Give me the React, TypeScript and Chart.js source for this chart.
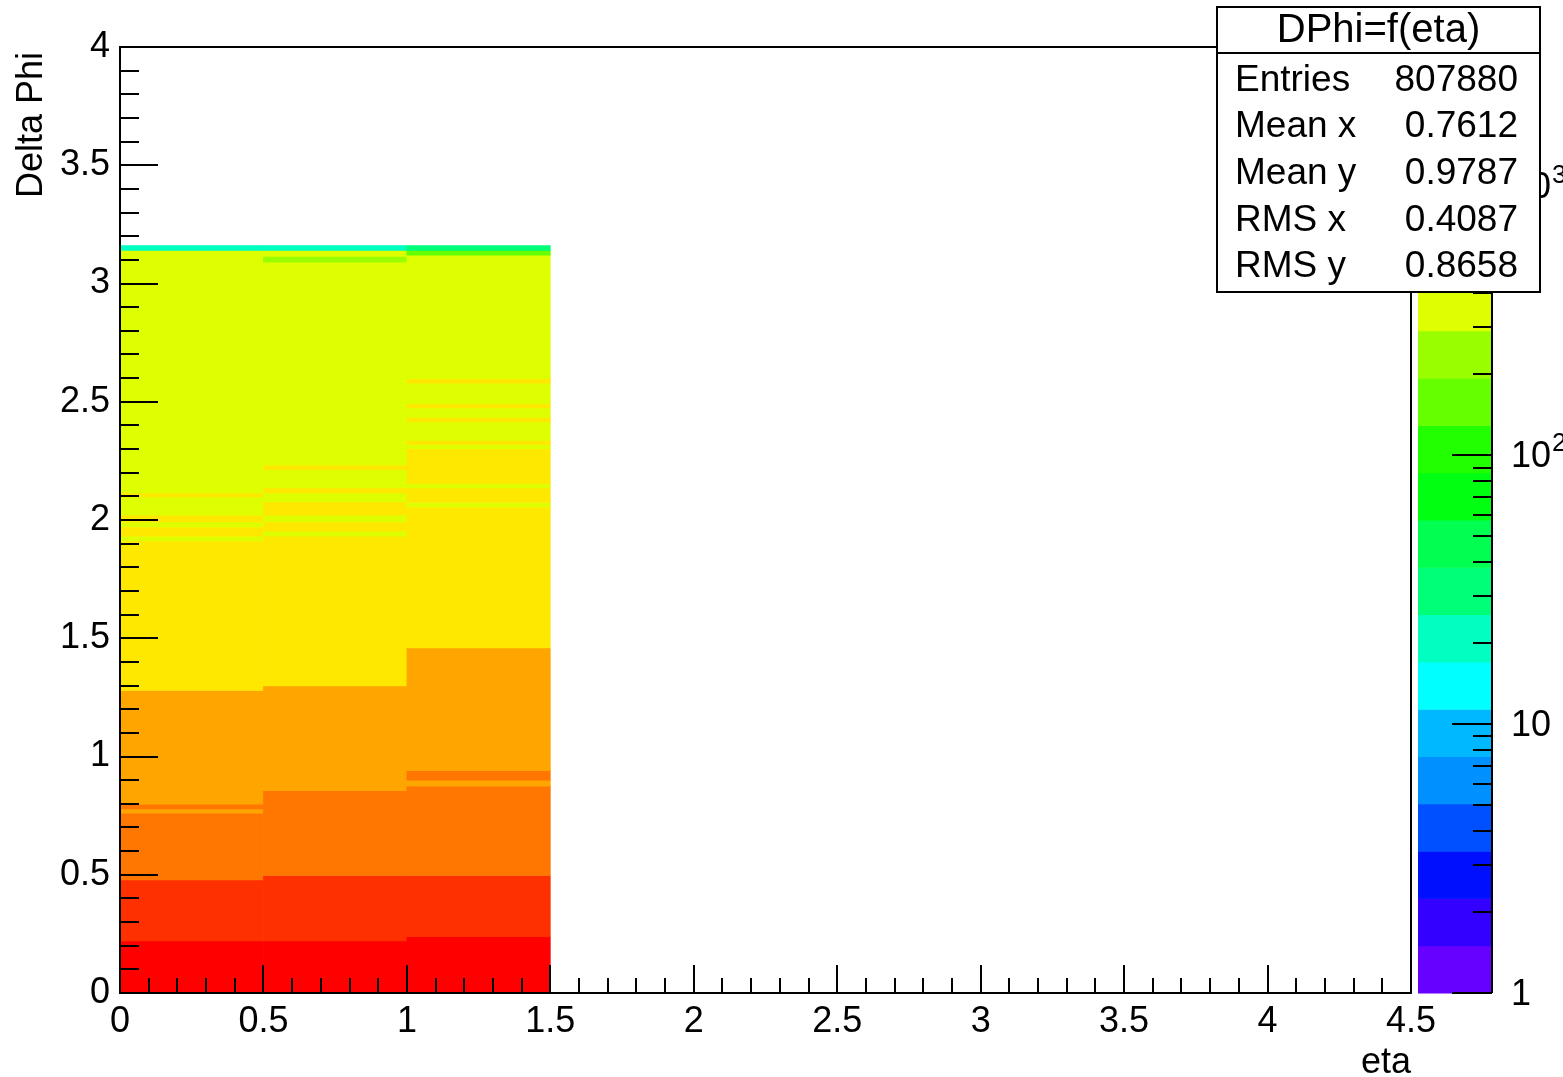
import React, { useEffect, useRef } from "react";
import { Chart, registerables } from "chart.js";

Chart.register(...registerables);

const FONT = '"Liberation Sans", Arial, Helvetica, sans-serif';

// ---------- data ----------
// eta bins (x): 0.5 wide, only the first three are filled
const etaBinCenters = [0.25, 0.75, 1.25];
const etaTickLabels = ["0", "0.5", "1", "1.5", "2", "2.5", "3", "3.5", "4", "4.5"];
const dphiTickLabels = ["0", "0.5", "1", "1.5", "2", "2.5", "3", "3.5", "4"];

// Delta Phi edges (bottom -> top) of runs of equal-looking bins, and bin counts in each run
const dphiEdgesEta0 = [0, 0.22, 0.478, 0.76, 0.778, 0.798, 1.279, 1.912, 1.932, 1.971, 1.992, 2.02, 2.098, 2.115, 3.14, 3.16];
const countsEta0 = [2760, 1830, 1190, 965, 995, 810, 540, 428, 446, 426, 443, 421, 440, 360, 21];

const dphiEdgesEta1 = [0, 0.22, 0.497, 0.855, 1.298, 1.932, 1.953, 1.992, 2.02, 2.077, 2.115, 2.136, 2.213, 2.232, 3.09, 3.115, 3.14, 3.16];
const countsEta1 = [2790, 1870, 1210, 820, 545, 430, 447, 427, 444, 424, 441, 418, 439, 362, 240, 345, 20];

const dphiEdgesEta2 = [0, 0.238, 0.497, 0.875, 0.9, 0.94, 1.459, 2.055, 2.074, 2.136, 2.154, 2.302, 2.319, 2.337, 2.415, 2.434, 2.474, 2.492, 2.579, 2.598, 3.12, 3.14, 3.16];
const countsEta2 = [2830, 1850, 1230, 972, 992, 840, 560, 431, 449, 429, 452, 433, 442, 425, 440, 422, 438, 416, 437, 365, 160, 31];

// colour (z) axis, logarithmic
const zMin = 1;
const zMax = 3300;
const zDecades = [1, 10, 100, 1000];
const paletteColors = [
  "#6600ff", "#3300ff", "#0010ff", "#0050ff", "#0090ff",
  "#00b8ff", "#00ffff", "#00ffc0", "#00ff78", "#00ff50",
  "#00ff10", "#22ff00", "#66ff00", "#99ff00", "#ddff00",
  "#ffe800", "#ffa500", "#ff7700", "#ff3000", "#ff0000",
];

// statistics box
const statsTitle = "DPhi=f(eta)";
const statsLabels = ["Entries", "Mean x", "Mean y", "RMS x", "RMS y"];
const statsValues = ["807880", "0.7612", "0.9787", "0.4087", "0.8658"];

const xTitle = "eta";
const yTitle = "Delta Phi";

// ---------- helpers ----------
function levelOf(count: number): number {
  const n = paletteColors.length;
  const f = Math.log10(count / zMin) / Math.log10(zMax / zMin);
  return Math.max(0, Math.min(n - 1, Math.floor(f * n)));
}

function buildSegments() {
  const columns = [
    { edges: dphiEdgesEta0, counts: countsEta0 },
    { edges: dphiEdgesEta1, counts: countsEta1 },
    { edges: dphiEdgesEta2, counts: countsEta2 },
  ];
  const data: { x: number; y: [number, number] }[] = [];
  const colors: string[] = [];
  columns.forEach((col, ci) => {
    for (let i = 0; i < col.counts.length; i++) {
      data.push({ x: etaBinCenters[ci], y: [col.edges[i], col.edges[i + 1]] });
      colors.push(paletteColors[levelOf(col.counts[i])]);
    }
  });
  return { data, colors };
}

function fmtTick(v: number, labels: string[]): string {
  const idx = Math.round(v / 0.5);
  return labels[idx] ?? String(v);
}

const rootStylePlugin = {
  id: "rootStyle",
  afterDraw(chart: any) {
    const ctx: CanvasRenderingContext2D = chart.ctx;
    const { left, right, top, bottom } = chart.chartArea;
    const xs = chart.scales.x;
    const ys = chart.scales.y;
    const zs = chart.scales.z;
    ctx.save();

    // frame
    ctx.strokeStyle = "#000";
    ctx.lineWidth = 2;
    ctx.strokeRect(left, top, right - left, bottom - top);

    // x ticks (major every 0.5, minor every 0.1) drawn inwards
    for (let i = 0; i <= 45; i++) {
      const px = Math.round(xs.getPixelForValue(i / 10));
      const len = i % 5 === 0 ? 28 : 15;
      ctx.beginPath();
      ctx.moveTo(px, bottom);
      ctx.lineTo(px, bottom - len);
      ctx.stroke();
    }
    // y ticks
    for (let i = 0; i <= 40; i++) {
      const py = Math.round(ys.getPixelForValue(i / 10));
      const len = i % 5 === 0 ? 38 : 19;
      ctx.beginPath();
      ctx.moveTo(left, py);
      ctx.lineTo(left + len, py);
      ctx.stroke();
    }

    // palette
    const palLeft = right + 7;
    const palRight = right + 81;
    const n = paletteColors.length;
    const r = zMax / zMin;
    for (let k = 0; k < n; k++) {
      const zLo = zMin * Math.pow(r, k / n);
      const zHi = zMin * Math.pow(r, (k + 1) / n);
      const y0 = zs.getPixelForValue(zLo);
      const y1 = zs.getPixelForValue(zHi);
      ctx.fillStyle = paletteColors[k];
      ctx.fillRect(palLeft, y1, palRight - palLeft, y0 - y1 + 0.5);
    }
    ctx.beginPath();
    ctx.moveTo(palRight, top);
    ctx.lineTo(palRight, bottom);
    ctx.stroke();
    for (const d of zDecades) {
      for (let m = 1; m <= 9; m++) {
        const v = m * d;
        if (v > zMax) break;
        const py = Math.round(zs.getPixelForValue(v));
        const len = m === 1 ? 40 : 19;
        ctx.beginPath();
        ctx.moveTo(palRight - len, py);
        ctx.lineTo(palRight, py);
        ctx.stroke();
      }
    }
    ctx.fillStyle = "#000";
    ctx.textBaseline = "middle";
    ctx.textAlign = "left";
    for (const d of zDecades) {
      const py = zs.getPixelForValue(d) + 2;
      const lx = palRight + 19;
      const exp = Math.round(Math.log10(d));
      ctx.font = `36px ${FONT}`;
      if (exp === 0) {
        ctx.fillText("1", lx, py);
      } else if (exp === 1) {
        ctx.fillText("10", lx, py);
      } else {
        ctx.fillText("10", lx, py);
        const w = ctx.measureText("10").width;
        ctx.font = `26px ${FONT}`;
        ctx.fillText(String(exp), lx + w + 1, py - 13);
      }
    }

    // axis titles
    ctx.font = `36px ${FONT}`;
    ctx.textAlign = "right";
    ctx.textBaseline = "alphabetic";
    ctx.fillText(xTitle, right, 1073);
    ctx.save();
    ctx.translate(42, top + 5);
    ctx.rotate(-Math.PI / 2);
    ctx.textAlign = "right";
    ctx.textBaseline = "alphabetic";
    ctx.fillText(yTitle, 0, 0);
    ctx.restore();

    // statistics box
    const bx = 1217, by = 7, bw = 323, bh = 285;
    ctx.fillStyle = "#fff";
    ctx.fillRect(bx, by, bw, bh);
    ctx.strokeStyle = "#000";
    ctx.lineWidth = 2;
    ctx.strokeRect(bx, by, bw, bh);
    ctx.beginPath();
    ctx.moveTo(bx, 53);
    ctx.lineTo(bx + bw, 53);
    ctx.stroke();
    ctx.fillStyle = "#000";
    ctx.font = `40px ${FONT}`;
    ctx.textAlign = "center";
    ctx.textBaseline = "middle";
    ctx.fillText(statsTitle, bx + bw / 2, 31);
    ctx.font = `37px ${FONT}`;
    const rowY = [81, 127, 174, 221, 267];
    statsLabels.forEach((lab, i) => {
      ctx.textAlign = "left";
      ctx.fillText(lab, 1235, rowY[i]);
      ctx.textAlign = "right";
      ctx.fillText(statsValues[i], 1518, rowY[i]);
    });

    ctx.restore();
  },
};

export default function App() {
  const canvasRef = useRef<HTMLCanvasElement | null>(null);

  useEffect(() => {
    const canvas = canvasRef.current;
    if (!canvas) return;
    const { data, colors } = buildSegments();
    const tickFont = { family: FONT, size: 36 };
    const chart = new Chart(canvas, {
      type: "bar",
      data: {
        datasets: [
          {
            data: data as any,
            backgroundColor: colors,
            borderWidth: 0,
            barPercentage: 1,
            categoryPercentage: 1,
          },
        ],
      },
      options: {
        responsive: false,
        animation: false,
        events: [],
        layout: { padding: { left: 0, top: 47, right: 152, bottom: 0 } },
        plugins: {
          legend: { display: false },
          tooltip: { enabled: false },
          title: { display: false },
        },
        scales: {
          x: {
            type: "linear",
            min: 0,
            max: 4.5,
            offset: false,
            grid: { display: false, offset: false, drawTicks: false },
            border: { display: false },
            ticks: {
              stepSize: 0.5,
              autoSkip: false,
              maxRotation: 0,
              padding: 7,
              color: "#000",
              font: tickFont,
              callback: (v: any) => fmtTick(Number(v), etaTickLabels),
            },
            afterFit: (s: any) => {
              s.height = 84;
            },
          },
          y: {
            type: "linear",
            min: 0,
            max: 4,
            grid: { display: false, drawTicks: false },
            border: { display: false },
            ticks: {
              stepSize: 0.5,
              autoSkip: false,
              padding: 10,
              color: "#000",
              font: tickFont,
              callback: (v: any) => fmtTick(Number(v), dphiTickLabels),
            },
            afterFit: (s: any) => {
              s.width = 120;
            },
          },
          z: {
            type: "logarithmic",
            axis: "y",
            position: "right",
            min: zMin,
            max: zMax,
            display: false,
          },
        } as any,
      },
      plugins: [rootStylePlugin],
    });
    return () => chart.destroy();
  }, []);

  return (
    <div style={{ position: "absolute", left: 0, top: 0, width: 1563, height: 1077, background: "#fff" }}>
      <canvas ref={canvasRef} width={1563} height={1077} style={{ display: "block" }} />
    </div>
  );
}
